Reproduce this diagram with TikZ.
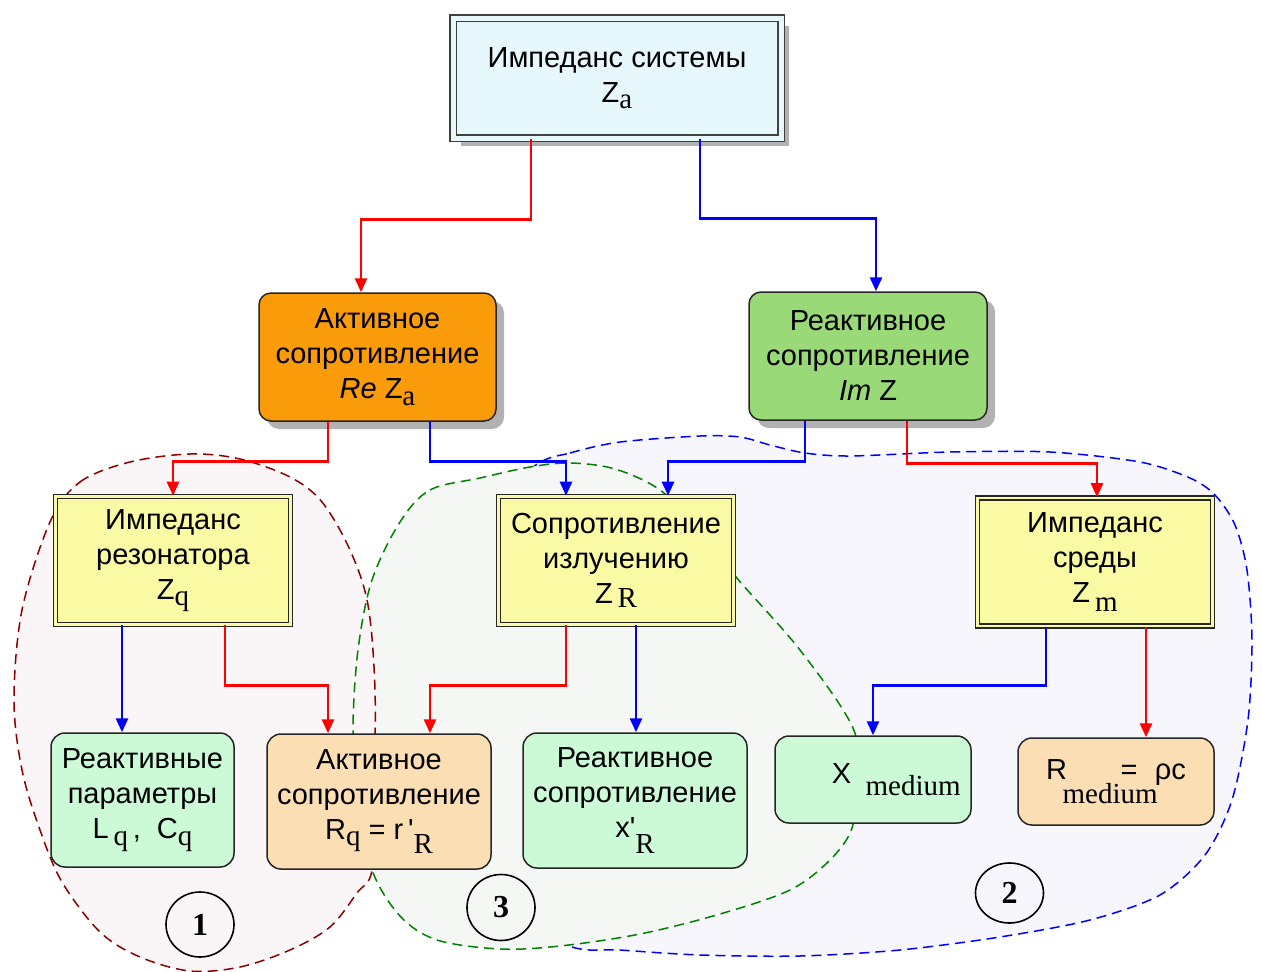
\documentclass[tikz,border=0pt]{standalone}
\usepackage{fontspec}
\setmainfont{Liberation Sans}
\newfontfamily\tnr{Liberation Serif}
\newfontfamily\plainsans{Liberation Sans}
\usetikzlibrary{arrows.meta,shapes.geometric,shadows}
\definecolor{topfill}{RGB}{230,248,252}
\definecolor{orangefill}{RGB}{250,155,10}
\definecolor{greenfill}{RGB}{153,217,120}
\definecolor{yellowfill}{RGB}{250,250,165}
\definecolor{lgreen}{RGB}{204,250,214}
\definecolor{lorange}{RGB}{252,222,180}
\definecolor{darkred}{RGB}{140,0,0}
\definecolor{dgreen}{RGB}{0,128,0}
\definecolor{regred}{RGB}{250,245,246}
\definecolor{reggreen}{RGB}{245,247,245}
\definecolor{regblue}{RGB}{246,246,252}
\newcommand\sub[2][0.22em]{\raisebox{-#1}{\tnr #2}}
\newcommand\apos{{\plainsans '}}
\def\redpath{plot[smooth cycle, tension=0.55] coordinates {(50,522) (80,482) (130,462) (190,454) (240,459) (290,477) (322,502) (350,550) (368,605) (375,690) (374,790) (372,870) (357,893) (330,927) (290,950) (240,967) (190,971) (140,957) (100,932) (62,882) (40,830) (22,770) (14,700) (22,610)}}
\def\greenpath{plot[smooth cycle, tension=0.55] coordinates {(400,522) (430,490) (480,478) (530,467) (570,463) (615,469) (660,490) (700,530) (736,577) (800,650) (853,728) (857,780) (852,828) (830,860) (790,890) (720,914) (640,934) (560,946) (500,949) (437,940) (400,916) (372,870) (358,800) (353,730) (358,650) (372,580)}}
\def\bluepath{plot[smooth cycle, tension=0.5] coordinates {(533,467) (570,453) (620,442) (700,436) (740,437) (770,445) (805,453) (850,456) (950,452) (1050,452) (1140,462) (1190,478) (1215,495) (1235,525) (1247,570) (1252,640) (1248,720) (1232,800) (1205,855) (1160,895) (1090,920) (1000,937) (900,950) (800,956) (700,955) (620,950) (569,946) (480,900) (430,700) (450,540)}}
\begin{document}
\begin{tikzpicture}[x=1pt,y=-1pt,
  txt/.style={align=center, font=\fontsize{29}{35}\selectfont, inner sep=0pt},
  sh/.style={drop shadow={shadow xshift=8pt, shadow yshift=-8pt, fill=black!30, opacity=1}},
  dbox/.style={txt, draw=black!85, line width=1.6pt, double=yellowfill, double distance=2.2pt, fill=yellowfill, minimum width=235pt, minimum height=128pt},
  rbox/.style={txt, draw=black!85, line width=1.5pt, rounded corners=12pt},
  ra/.style={draw=red, line width=2.7pt, -{Triangle[length=14pt,width=12pt]}},
  ba/.style={draw=blue, line width=2.7pt, -{Triangle[length=14pt,width=12pt]}},
  reg/.style={line width=1.5pt, dash pattern=on 10pt off 6pt},
  num/.style={ellipse, draw=black, line width=1.6pt, inner sep=0pt, font=\fontsize{32}{36}\selectfont\tnr\bfseries}]
\useasboundingbox[fill=white] (0,0) rectangle (1262,972);
% regions
\fill[regblue] \bluepath;
\draw[reg, blue] \bluepath;
\fill[reggreen] \greenpath;
\fill[regred] \redpath;
\draw[reg, dgreen] \greenpath;
\draw[reg, darkred] \redpath;
% boxes
\node[txt, sh, draw=black!75, line width=1.5pt, double=topfill, double distance=5pt, fill=topfill, minimum width=328pt, minimum height=120pt] (top) at (617,78) {Импеданс системы\\Z\sub{a}};
\node[rbox, sh, fill=orangefill, minimum width=237pt, minimum height=128pt] (act) at (377.5,357) {Активное\\сопротивление\\\textit{Re} Z\sub{a}};
\node[rbox, sh, fill=greenfill, minimum width=238pt, minimum height=128pt] (rea) at (868,356) {Реактивное\\сопротивление\\\textit{Im} Z};
\node[dbox] (y1) at (173,560.5) {Импеданс\\резонатора\\Z\sub{q}};
\node[dbox] (y2) at (616,560.5) {Сопротивление\\излучению\\Z\,\sub[0.12em]{R}};
\node[dbox] (y3) at (1095,562) {Импеданс\\среды\\Z\,\sub[0.3em]{m}};
\node[rbox, rounded corners=14pt, fill=lgreen, minimum width=183pt, minimum height=134pt] (b1) at (142.5,800) {Реактивные\\параметры\\L\,\sub{q}\,,\; C\sub{q}};
\node[rbox, rounded corners=14pt, fill=lorange, minimum width=224pt, minimum height=135pt] (b2) at (379,801.5) {Активное\\сопротивление\\R\sub{q} = r\,\apos\sub[0.5em]{R}};
\node[rbox, rounded corners=14pt, fill=lgreen, minimum width=224pt, minimum height=135pt] (b3) at (635,800.5) {Реактивное\\сопротивление\\x\apos\sub[0.55em]{R}};
\node[rbox, rounded corners=14pt, fill=lgreen, minimum width=196pt, minimum height=87pt] (b4) at (873,779.5) {\hspace*{1.6em}X\hspace{0.5em}\sub[0.4em]{medium}};
\node[rbox, rounded corners=14pt, fill=lorange, minimum width=196pt, minimum height=87pt] (b5) at (1116,781.5) {R\rlap{\kern-0.15em\sub[0.85em]{medium}}\hspace{1.85em}=\hspace{0.6em}ρc};
% numbers
\node[num, minimum width=68pt, minimum height=65pt] (n1) at (200,924.5) {1};
\node[num, minimum width=68pt, minimum height=66pt] (n3) at (501,907.5) {3};
\node[num, minimum width=68pt, minimum height=60pt] (n2) at (1009.5,893) {2};
% connectors
\draw[ra] ([xshift=-86pt]top.south) -- ++(0,81) -| ([xshift=-16.5pt]act.north);
\draw[ba] ([xshift=83pt]top.south) -- ++(0,80) -| ([xshift=8pt]rea.north);
\draw[ra] ([xshift=-49.5pt]act.south) -- ++(0,40) -| (y1.north);
\draw[ba] ([xshift=52.5pt]act.south) -- ++(0,40) -| ([xshift=-50pt]y2.north);
\draw[ba] ([xshift=-63pt]rea.south) -- ++(0,41) -| ([xshift=52pt]y2.north);
\draw[ra] ([xshift=39pt]rea.south) -- ++(0,43) -| ([xshift=2pt]y3.north);
\draw[ba] ([xshift=-51pt]y1.south) -- ([xshift=-51pt]y1.south |- b1.north);
\draw[ra] ([xshift=52pt]y1.south) -- ++(0,60) -| ([xshift=-51pt]b2.north);
\draw[ra] ([xshift=-50pt]y2.south) -- ++(0,60) -| ([xshift=51pt]b2.north);
\draw[ba] ([xshift=20pt]y2.south) -- ([xshift=20pt]y2.south |- b3.north);
\draw[ba] ([xshift=-49pt]y3.south) -- ++(0,59) -| (b4.north);
\draw[ra] ([xshift=51pt]y3.south) -- ([xshift=51pt]y3.south |- b5.north);
\end{tikzpicture}
\end{document}
